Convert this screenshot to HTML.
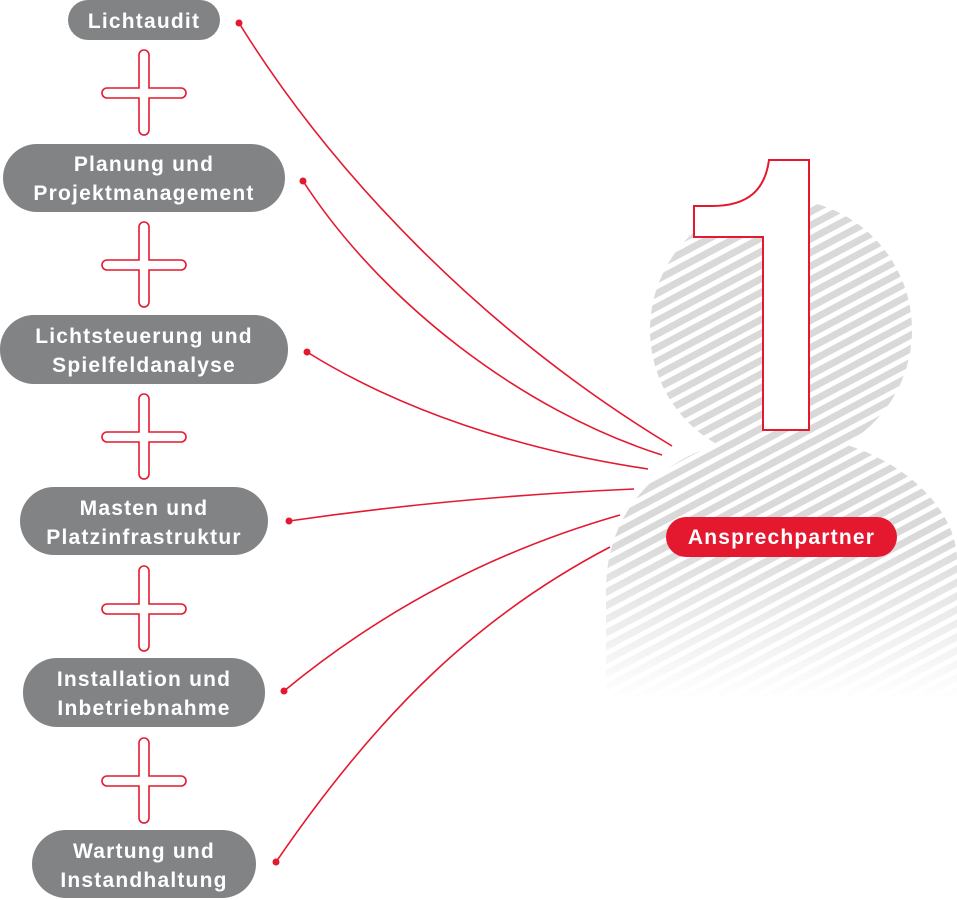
<!DOCTYPE html>
<html><head><meta charset="utf-8"><style>
html,body{margin:0;padding:0;background:#fff;width:957px;height:900px;overflow:hidden}
svg{display:block}
text{font-family:"Liberation Sans",Arial,sans-serif;font-weight:bold;fill:#fff;font-size:21px;letter-spacing:1.2px}
</style></head><body>
<svg width="957" height="900" viewBox="0 0 957 900" xmlns="http://www.w3.org/2000/svg">
<defs>
<pattern id="st" patternUnits="userSpaceOnUse" width="12" height="12" patternTransform="rotate(-28)">
<rect width="12" height="7" fill="#d9d9d9"/>
</pattern>
<linearGradient id="fg" x1="0" y1="0" x2="0" y2="1">
<stop offset="0" stop-color="#fff"/><stop offset="0.68" stop-color="#fff"/><stop offset="1" stop-color="#fff" stop-opacity="0"/>
</linearGradient>
<mask id="m" maskUnits="userSpaceOnUse" x="600" y="190" width="357" height="510">
<rect x="600" y="190" width="357" height="510" fill="url(#fg)"/>
</mask>
<g id="cross"><path d="M139,4 a5,5 0 0 1 10,0 V37 H181 a5,5 0 0 1 0,10 H149 V79 a5,5 0 0 1 -10,0 V47 H107 a5,5 0 0 1 0,-10 H139 Z" fill="#fff" stroke="#e4192f" stroke-width="1.6"/></g>
</defs>
<g mask="url(#m)" fill="url(#st)">
<circle cx="781" cy="330" r="131"/>
<path d="M606,700 L606,590 C606,490 690,435 781,435 C880,435 957,500 957,560 L957,700 Z"/>
</g>
<path d="M769,160 L809,160 L809,430 L763,430 L763,237 L694,237 L694,206 L712,206 C748,206 765,190 769,160 Z" fill="#fff" stroke="#e4192f" stroke-width="2"/>
<g fill="none" stroke="#e4192f" stroke-width="1.6">
<path d="M239,23 C330,170 480,330 672,446"/>
<path d="M303,181 C380,300 520,410 662,455"/>
<path d="M307,352 C400,410 520,450 648,469"/>
<path d="M289,521 C400,505 520,494 634,489"/>
<path d="M284,691 C370,620 480,555 620,515"/>
<path d="M276,862 C380,710 480,615 610,547"/>
</g>
<g fill="#e4192f">
<circle cx="239" cy="23" r="3.5"/><circle cx="303" cy="181" r="3.5"/><circle cx="307" cy="352" r="3.5"/>
<circle cx="289" cy="521" r="3.5"/><circle cx="284" cy="691" r="3.5"/><circle cx="276" cy="862" r="3.5"/>
</g>
<use href="#cross" transform="translate(0,51)"/>
<use href="#cross" transform="translate(0,223)"/>
<use href="#cross" transform="translate(0,395)"/>
<use href="#cross" transform="translate(0,567)"/>
<use href="#cross" transform="translate(0,739)"/>
<g fill="#818385">
<rect x="68" y="0" width="152" height="40" rx="20"/>
<rect x="3" y="144" width="282" height="68" rx="34"/>
<rect x="0" y="315" width="288" height="69" rx="34"/>
<rect x="20" y="487" width="248" height="68" rx="34"/>
<rect x="23" y="658" width="242" height="69" rx="34"/>
<rect x="32" y="830" width="224" height="68" rx="34"/>
</g>
<g text-anchor="middle">
<text x="144" y="28">Lichtaudit</text>
<text x="144" y="171">Planung und</text><text x="144" y="200">Projektmanagement</text>
<text x="144" y="343">Lichtsteuerung und</text><text x="144" y="372">Spielfeldanalyse</text>
<text x="144" y="515">Masten und</text><text x="144" y="544">Platzinfrastruktur</text>
<text x="144" y="686">Installation und</text><text x="144" y="715">Inbetriebnahme</text>
<text x="144" y="858">Wartung und</text><text x="144" y="887">Instandhaltung</text>
</g>
<rect x="666" y="517" width="231" height="40" rx="20" fill="#e4192f"/>
<text x="781.5" y="544" text-anchor="middle">Ansprechpartner</text>
</svg>
</body></html>
